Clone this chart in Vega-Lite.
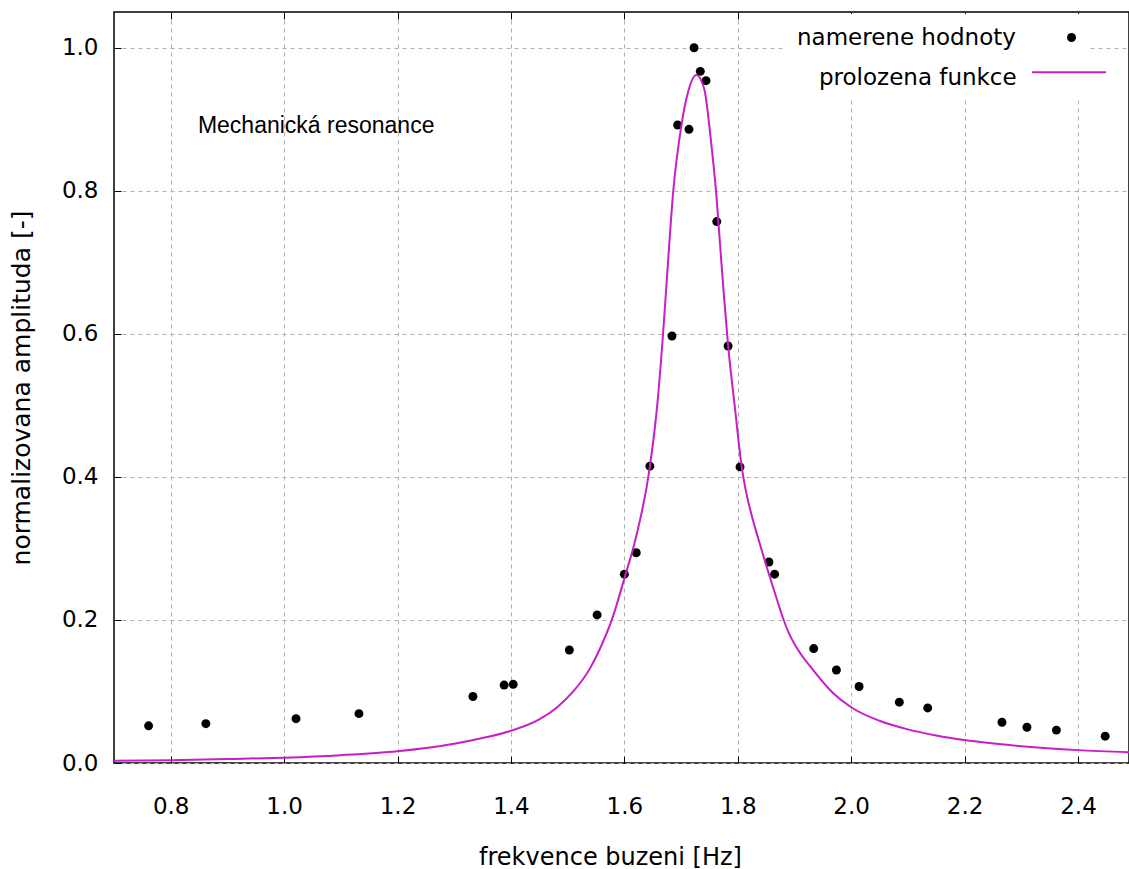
{
  "$schema": "https://vega.github.io/schema/vega-lite/v6.json",
  "width": 1015,
  "height": 751,
  "autosize": {"type": "none"},
  "padding": {"left": 114, "top": 12, "right": 0, "bottom": 106},
  "background": "white",
  "config": {
    "font": "DejaVu Sans",
    "view": {"stroke": "black", "strokeWidth": 1.5},
    "axisBottom": {
      "grid": true, "gridColor": "#b0b0b0", "gridDash": [4, 4], "gridWidth": 1,
      "domain": false, "ticks": true, "tickSize": -7, "tickColor": "black", "tickWidth": 1,
      "labelFontSize": 23, "labelPadding": 39, "labelColor": "black", "labelFont": "DejaVu Sans",
      "titleFontSize": 24, "titleFontWeight": "normal", "titlePadding": 27, "titleColor": "black", "titleFont": "DejaVu Sans",
      "titleX": 496
    },
    "axisTop": {
      "grid": false, "domain": false, "labels": false, "ticks": true, "tickSize": -7, "tickColor": "black", "tickWidth": 1, "title": null
    },
    "axisLeft": {
      "grid": true, "gridColor": "#b0b0b0", "gridDash": [4, 4], "gridWidth": 1,
      "domain": false, "ticks": true, "tickSize": -7, "tickColor": "black", "tickWidth": 1,
      "labelFontSize": 23, "labelPadding": 23, "labelColor": "black", "labelFont": "DejaVu Sans",
      "titleFontSize": 25, "titleFontWeight": "normal", "titlePadding": 27, "titleColor": "black", "titleFont": "DejaVu Sans"
    },
    "legend": {
      "title": null, "orient": "none", "fillColor": "white", "strokeColor": null,
      "labelFont": "DejaVu Sans", "labelFontSize": 23, "labelColor": "black", "labelAlign": "left",
      "labelBaseline": "middle", "labelLimit": 0
    }
  },
  "datasets": {
    "points": [
      {"f": 0.761, "a": 0.052, "series": "namerene hodnoty"},
      {"f": 0.862, "a": 0.055, "series": "namerene hodnoty"},
      {"f": 1.021, "a": 0.062, "series": "namerene hodnoty"},
      {"f": 1.132, "a": 0.069, "series": "namerene hodnoty"},
      {"f": 1.333, "a": 0.093, "series": "namerene hodnoty"},
      {"f": 1.388, "a": 0.109, "series": "namerene hodnoty"},
      {"f": 1.404, "a": 0.110, "series": "namerene hodnoty"},
      {"f": 1.503, "a": 0.158, "series": "namerene hodnoty"},
      {"f": 1.552, "a": 0.207, "series": "namerene hodnoty"},
      {"f": 1.600, "a": 0.264, "series": "namerene hodnoty"},
      {"f": 1.621, "a": 0.294, "series": "namerene hodnoty"},
      {"f": 1.645, "a": 0.415, "series": "namerene hodnoty"},
      {"f": 1.684, "a": 0.597, "series": "namerene hodnoty"},
      {"f": 1.694, "a": 0.892, "series": "namerene hodnoty"},
      {"f": 1.714, "a": 0.886, "series": "namerene hodnoty"},
      {"f": 1.723, "a": 1.000, "series": "namerene hodnoty"},
      {"f": 1.734, "a": 0.967, "series": "namerene hodnoty"},
      {"f": 1.744, "a": 0.954, "series": "namerene hodnoty"},
      {"f": 1.763, "a": 0.757, "series": "namerene hodnoty"},
      {"f": 1.783, "a": 0.583, "series": "namerene hodnoty"},
      {"f": 1.804, "a": 0.414, "series": "namerene hodnoty"},
      {"f": 1.855, "a": 0.281, "series": "namerene hodnoty"},
      {"f": 1.865, "a": 0.264, "series": "namerene hodnoty"},
      {"f": 1.934, "a": 0.160, "series": "namerene hodnoty"},
      {"f": 1.974, "a": 0.130, "series": "namerene hodnoty"},
      {"f": 2.014, "a": 0.107, "series": "namerene hodnoty"},
      {"f": 2.085, "a": 0.085, "series": "namerene hodnoty"},
      {"f": 2.135, "a": 0.077, "series": "namerene hodnoty"},
      {"f": 2.266, "a": 0.057, "series": "namerene hodnoty"},
      {"f": 2.310, "a": 0.050, "series": "namerene hodnoty"},
      {"f": 2.362, "a": 0.046, "series": "namerene hodnoty"},
      {"f": 2.448, "a": 0.0375, "series": "namerene hodnoty"}
    ],
    "curve": [
      {"f": 0.70, "a": 0.003, "series": "prolozena funkce"},
      {"f": 0.80, "a": 0.004, "series": "prolozena funkce"},
      {"f": 0.90, "a": 0.0055, "series": "prolozena funkce"},
      {"f": 1.00, "a": 0.0075, "series": "prolozena funkce"},
      {"f": 1.10, "a": 0.011, "series": "prolozena funkce"},
      {"f": 1.20, "a": 0.0165, "series": "prolozena funkce"},
      {"f": 1.25, "a": 0.021, "series": "prolozena funkce"},
      {"f": 1.30, "a": 0.027, "series": "prolozena funkce"},
      {"f": 1.35, "a": 0.035, "series": "prolozena funkce"},
      {"f": 1.40, "a": 0.045, "series": "prolozena funkce"},
      {"f": 1.45, "a": 0.061, "series": "prolozena funkce"},
      {"f": 1.48, "a": 0.077, "series": "prolozena funkce"},
      {"f": 1.51, "a": 0.100, "series": "prolozena funkce"},
      {"f": 1.54, "a": 0.133, "series": "prolozena funkce"},
      {"f": 1.56, "a": 0.165, "series": "prolozena funkce"},
      {"f": 1.58, "a": 0.205, "series": "prolozena funkce"},
      {"f": 1.60, "a": 0.258, "series": "prolozena funkce"},
      {"f": 1.62, "a": 0.314, "series": "prolozena funkce"},
      {"f": 1.645, "a": 0.414, "series": "prolozena funkce"},
      {"f": 1.658, "a": 0.50, "series": "prolozena funkce"},
      {"f": 1.668, "a": 0.597, "series": "prolozena funkce"},
      {"f": 1.677, "a": 0.70, "series": "prolozena funkce"},
      {"f": 1.686, "a": 0.797, "series": "prolozena funkce"},
      {"f": 1.700, "a": 0.888, "series": "prolozena funkce"},
      {"f": 1.712, "a": 0.937, "series": "prolozena funkce"},
      {"f": 1.727, "a": 0.962, "series": "prolozena funkce"},
      {"f": 1.741, "a": 0.942, "series": "prolozena funkce"},
      {"f": 1.753, "a": 0.868, "series": "prolozena funkce"},
      {"f": 1.762, "a": 0.797, "series": "prolozena funkce"},
      {"f": 1.770, "a": 0.712, "series": "prolozena funkce"},
      {"f": 1.776, "a": 0.65, "series": "prolozena funkce"},
      {"f": 1.783, "a": 0.584, "series": "prolozena funkce"},
      {"f": 1.795, "a": 0.497, "series": "prolozena funkce"},
      {"f": 1.807, "a": 0.414, "series": "prolozena funkce"},
      {"f": 1.815, "a": 0.378, "series": "prolozena funkce"},
      {"f": 1.825, "a": 0.345, "series": "prolozena funkce"},
      {"f": 1.835, "a": 0.317, "series": "prolozena funkce"},
      {"f": 1.845, "a": 0.290, "series": "prolozena funkce"},
      {"f": 1.857, "a": 0.259, "series": "prolozena funkce"},
      {"f": 1.869, "a": 0.229, "series": "prolozena funkce"},
      {"f": 1.88, "a": 0.202, "series": "prolozena funkce"},
      {"f": 1.89, "a": 0.182, "series": "prolozena funkce"},
      {"f": 1.904, "a": 0.161, "series": "prolozena funkce"},
      {"f": 1.933, "a": 0.130, "series": "prolozena funkce"},
      {"f": 1.968, "a": 0.098, "series": "prolozena funkce"},
      {"f": 2.00, "a": 0.078, "series": "prolozena funkce"},
      {"f": 2.05, "a": 0.059, "series": "prolozena funkce"},
      {"f": 2.10, "a": 0.047, "series": "prolozena funkce"},
      {"f": 2.15, "a": 0.0385, "series": "prolozena funkce"},
      {"f": 2.20, "a": 0.032, "series": "prolozena funkce"},
      {"f": 2.30, "a": 0.0235, "series": "prolozena funkce"},
      {"f": 2.40, "a": 0.018, "series": "prolozena funkce"},
      {"f": 2.49, "a": 0.015, "series": "prolozena funkce"}
    ],
    "notes": [
      {"f": 0.848, "a": 0.881, "label": "Mechanická resonance"}
    ]
  },
  "layer": [
    {
      "data": {"name": "points"},
      "mark": {"type": "point", "filled": true, "size": 80, "opacity": 1, "color": "black"},
      "encoding": {
        "x": {"field": "f", "type": "quantitative", "scale": {"domain": [0.7, 2.49], "nice": false, "zero": false},
              "axis": {"orient": "bottom", "values": [0.8, 1.0, 1.2, 1.4, 1.6, 1.8, 2.0, 2.2, 2.4], "format": ".1f"},
              "title": "frekvence buzeni [Hz]"},
        "y": {"field": "a", "type": "quantitative", "scale": {"domain": [0, 1.05], "nice": false, "zero": false},
              "axis": {"values": [0, 0.2, 0.4, 0.6, 0.8, 1.0], "format": ".1f"},
              "title": "normalizovana amplituda [-]"},
        "shape": {"field": "series", "type": "nominal",
          "scale": {"domain": ["namerene hodnoty"], "range": ["circle"]},
          "legend": {
            "legendX": 671, "legendY": 2, "padding": 12, "symbolOffset": 263, "labelOffset": -286,
            "symbolType": "circle", "symbolSize": 80, "symbolFillColor": "black", "symbolStrokeColor": "black", "symbolStrokeWidth": 0,
            "encode": {"labels": {"update": {"dy": {"value": 6}}}}
          }}
      }
    },
    {
      "data": {"name": "curve"},
      "mark": {"type": "line", "strokeWidth": 2, "interpolate": "monotone"},
      "encoding": {
        "x": {"field": "f", "type": "quantitative", "scale": {"domain": [0.7, 2.49], "nice": false, "zero": false},
              "axis": {"orient": "top", "values": [0.8, 1.0, 1.2, 1.4, 1.6, 1.8, 2.0, 2.2, 2.4], "title": null}},
        "y": {"field": "a", "type": "quantitative", "title": "normalizovana amplituda [-]"},
        "color": {"field": "series", "type": "nominal",
          "scale": {"domain": ["prolozena funkce"], "range": ["#c81ec8"]},
          "legend": {
            "legendX": 697, "legendY": 40.8, "padding": 8, "symbolOffset": 238.5, "labelOffset": -261.5,
            "symbolType": "M-9.25,0H9.25", "symbolSize": 64, "symbolStrokeWidth": 2,
            "encode": {"labels": {"update": {"dy": {"value": 6}}}}
          }}
      }
    },
    {
      "data": {"name": "notes"},
      "mark": {"type": "text", "align": "left", "baseline": "alphabetic", "fontSize": 23, "font": "Liberation Sans", "color": "black"},
      "encoding": {
        "x": {"field": "f", "type": "quantitative", "scale": {"domain": [0.7, 2.49], "nice": false, "zero": false}, "axis": null},
        "y": {"field": "a", "type": "quantitative", "title": "normalizovana amplituda [-]"},
        "text": {"field": "label"}
      }
    }
  ],
  "resolve": {"scale": {"x": "independent"}}
}
